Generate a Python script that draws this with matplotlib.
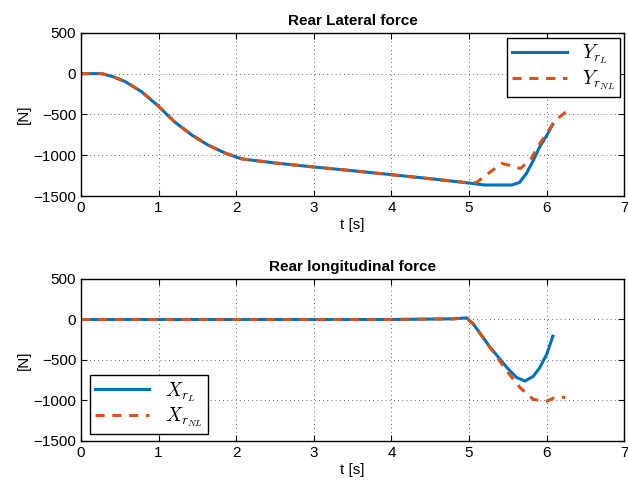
import matplotlib.pyplot as plt
import numpy as np

plt.rcParams['font.family'] = ['Liberation Sans', 'DejaVu Sans']
plt.rcParams['mathtext.fontset'] = 'cm'

# rear lateral force, linear model
t_yl = [0, 0.27, 0.42, 0.57, 0.78, 1.0, 1.1, 1.21, 1.43, 1.64, 1.86, 2.07, 2.3, 2.5,
        3.0, 3.5, 4.0, 4.5, 5.0, 5.2, 5.55, 5.65, 5.74, 5.82, 5.91, 6.0, 6.08]
y_l = [0, 0, -40, -98, -221, -400, -495, -595, -754, -877, -975, -1045, -1072, -1095,
       -1144, -1190, -1238, -1287, -1341, -1365, -1365, -1335, -1223, -1080, -899,
       -760, -622]
# rear lateral force, nonlinear model
t_ynl = [0, 0.27, 0.42, 0.57, 0.78, 1.0, 1.1, 1.21, 1.43, 1.64, 1.86, 2.07, 2.3, 2.5,
         3.0, 3.5, 4.0, 4.5, 5.0, 5.1, 5.25, 5.42, 5.55, 5.66, 5.79, 5.91, 6.0, 6.08,
         6.17, 6.26]
y_nl = [0, 0, -40, -98, -221, -400, -495, -595, -754, -877, -975, -1045, -1072, -1095,
        -1144, -1190, -1240, -1290, -1338, -1332, -1222, -1101, -1130, -1163, -1061,
        -857, -740, -614, -530, -460]

# rear longitudinal force, linear model
t_xl = [0, 4.0, 4.8, 4.97, 5.06, 5.27, 5.49, 5.61, 5.72, 5.83, 5.91, 6.0, 6.08]
x_l = [0, 0, 8, 20, -62, -340, -596, -715, -760, -700, -596, -432, -206]
# rear longitudinal force, nonlinear model
t_xnl = [0, 4.0, 4.8, 4.97, 5.06, 5.27, 5.4, 5.49, 5.66, 5.83, 6.0, 6.09, 6.24]
x_nl = [0, 0, 8, 20, -62, -345, -520, -640, -844, -988, -1010, -970, -960]

blue = '#0072BD'
orange = '#D95319'

fig = plt.figure(figsize=(6.28, 4.93), dpi=100)
ax1 = fig.add_axes([0.129, 0.6024, 0.865, 0.331])
ax2 = fig.add_axes([0.129, 0.1055, 0.865, 0.3286])


def style(ax, title):
    ax.set_xlim(0, 7)
    ax.set_ylim(-1500, 500)
    ax.set_xticks(range(0, 8))
    ax.set_yticks([-1500, -1000, -500, 0, 500])
    ax.grid(True, linestyle=(0, (1, 4)), color='#333333', linewidth=0.6)
    ax.tick_params(direction='in', top=True, right=True, labelsize=11, length=4)
    ax.set_xlabel('t [s]', fontsize=11, labelpad=2)
    ax.set_ylabel('[N]', fontsize=11, labelpad=2)
    ax.set_title(title, fontsize=11, fontweight='bold', pad=6)
    for s in ax.spines.values():
        s.set_linewidth(1.0)


ax1.plot(t_yl, y_l, color=blue, lw=2.2, label=r'$Y_{r_L}$')
ax1.plot(t_ynl, y_nl, color=orange, lw=2.2, ls=(0, (3, 2.5)), label=r'$Y_{r_{NL}}$')
style(ax1, 'Rear Lateral force')
ax1.legend(loc='upper right', fontsize=14, fancybox=False, edgecolor='black',
           framealpha=1, handlelength=2.8, borderpad=0.25, labelspacing=0.1,
           borderaxespad=0, bbox_to_anchor=(0.9926, 0.969))

ax2.plot(t_xl, x_l, color=blue, lw=2.2, label=r'$X_{r_L}$')
ax2.plot(t_xnl, x_nl, color=orange, lw=2.2, ls=(0, (3, 2.5)), label=r'$X_{r_{NL}}$')
style(ax2, 'Rear longitudinal force')
ax2.legend(loc='lower left', fontsize=14, fancybox=False, edgecolor='black',
           framealpha=1, handlelength=2.8, borderpad=0.25, labelspacing=0.1,
           borderaxespad=0, bbox_to_anchor=(0.0166, 0.043))

fig.savefig('out.png', dpi=100)
